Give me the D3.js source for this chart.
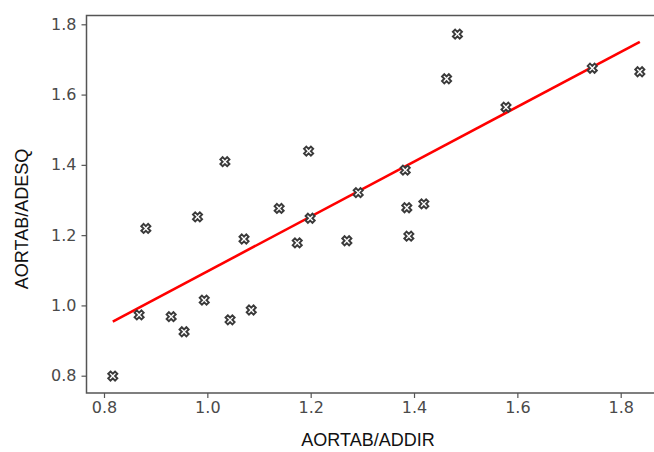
<!DOCTYPE html>
<html>
<head>
<meta charset="utf-8">
<script src="https://cdn.jsdelivr.net/npm/d3@7"></script>
<style>
  html, body { margin: 0; padding: 0; background: #fff; }
  svg { display: block; }
</style>
</head>
<body>
<svg id="chart" width="654" height="452"></svg>
<script>
// ---- data ----
const addir = [0.817, 0.868, 0.881, 0.930, 0.955, 0.981, 0.994, 1.034, 1.044, 1.071, 1.085, 1.139, 1.174, 1.196, 1.199, 1.270, 1.292, 1.383, 1.386, 1.390, 1.419, 1.463, 1.484, 1.578, 1.745, 1.837];
const adesq = [0.799, 0.973, 1.219, 0.968, 0.925, 1.252, 1.015, 1.409, 0.959, 1.189, 0.987, 1.276, 1.178, 1.439, 1.248, 1.184, 1.321, 1.385, 1.278, 1.197, 1.289, 1.645, 1.772, 1.564, 1.675, 1.665];
const fitX = [0.817, 1.837];
const fitY = [0.954, 1.750];
const xTicks = [0.8, 1.0, 1.2, 1.4, 1.6, 1.8];
const yTicks = [0.8, 1.0, 1.2, 1.4, 1.6, 1.8];
const xTitle = "AORTAB/ADDIR";
const yTitle = "AORTAB/ADESQ";

// ---- layout ----
const svg = d3.select("#chart");
const frame = { left: 86.5, top: 15.5, right: 720, bottom: 393 };

const x = d3.scaleLinear().domain([0.8, 1.8]).range([104, 620.7]);
const y = d3.scaleLinear().domain([0.8, 1.8]).range([375.7, 24.3]);

const axisColor = "#555";
const tickFont = "'DejaVu Sans', sans-serif";

// x axis
const gx = svg.append("g")
  .attr("transform", `translate(0,${frame.bottom})`)
  .call(d3.axisBottom(x).tickValues(xTicks).tickFormat(d3.format(".1f")).tickSize(5).tickPadding(4));
gx.select(".domain").remove();
gx.selectAll(".tick line").attr("stroke", axisColor).attr("stroke-width", 1.2);
gx.selectAll(".tick text").attr("fill", "#4a4a4a").style("font-family", tickFont).style("font-size", "16px");

// y axis
const gy = svg.append("g")
  .attr("transform", `translate(${frame.left},0)`)
  .call(d3.axisLeft(y).tickValues(yTicks).tickFormat(d3.format(".1f")).tickSize(5).tickPadding(5));
gy.select(".domain").remove();
gy.selectAll(".tick line").attr("stroke", axisColor).attr("stroke-width", 1.2);
gy.selectAll(".tick text").attr("fill", "#4a4a4a").style("font-family", tickFont).style("font-size", "16px");

// frame
svg.append("rect")
  .attr("x", frame.left).attr("y", frame.top)
  .attr("width", frame.right - frame.left).attr("height", frame.bottom - frame.top)
  .attr("fill", "none").attr("stroke", axisColor).attr("stroke-width", 1.5);

// regression line
const line = d3.line().x(d => x(d[0])).y(d => y(d[1]));
svg.append("path")
  .datum(fitX.map((v, i) => [v, fitY[i]]))
  .attr("d", line)
  .attr("fill", "none").attr("stroke", "#ff0000").attr("stroke-width", 2.6);

// markers
const sym = d3.symbol().type(d3.symbolCross).size(52);
svg.append("g").selectAll("path")
  .data(addir.map((v, i) => [v, adesq[i]]))
  .join("path")
  .attr("d", sym)
  .attr("transform", d => `translate(${x(d[0])},${y(d[1])}) rotate(45)`)
  .attr("fill", "#fff").attr("stroke", "#3a3a3a").attr("stroke-width", 1.9);

// titles
svg.append("text")
  .attr("x", 368).attr("y", 446)
  .attr("text-anchor", "middle")
  .style("font-family", "'Liberation Sans', Arial, sans-serif")
  .style("font-size", "18px").attr("fill", "#111")
  .text(xTitle);

svg.append("text")
  .attr("transform", "translate(28,219) rotate(-90)")
  .attr("text-anchor", "middle")
  .style("font-family", "'Liberation Sans', Arial, sans-serif")
  .style("font-size", "18px").attr("fill", "#111")
  .text(yTitle);
</script>
</body>
</html>
